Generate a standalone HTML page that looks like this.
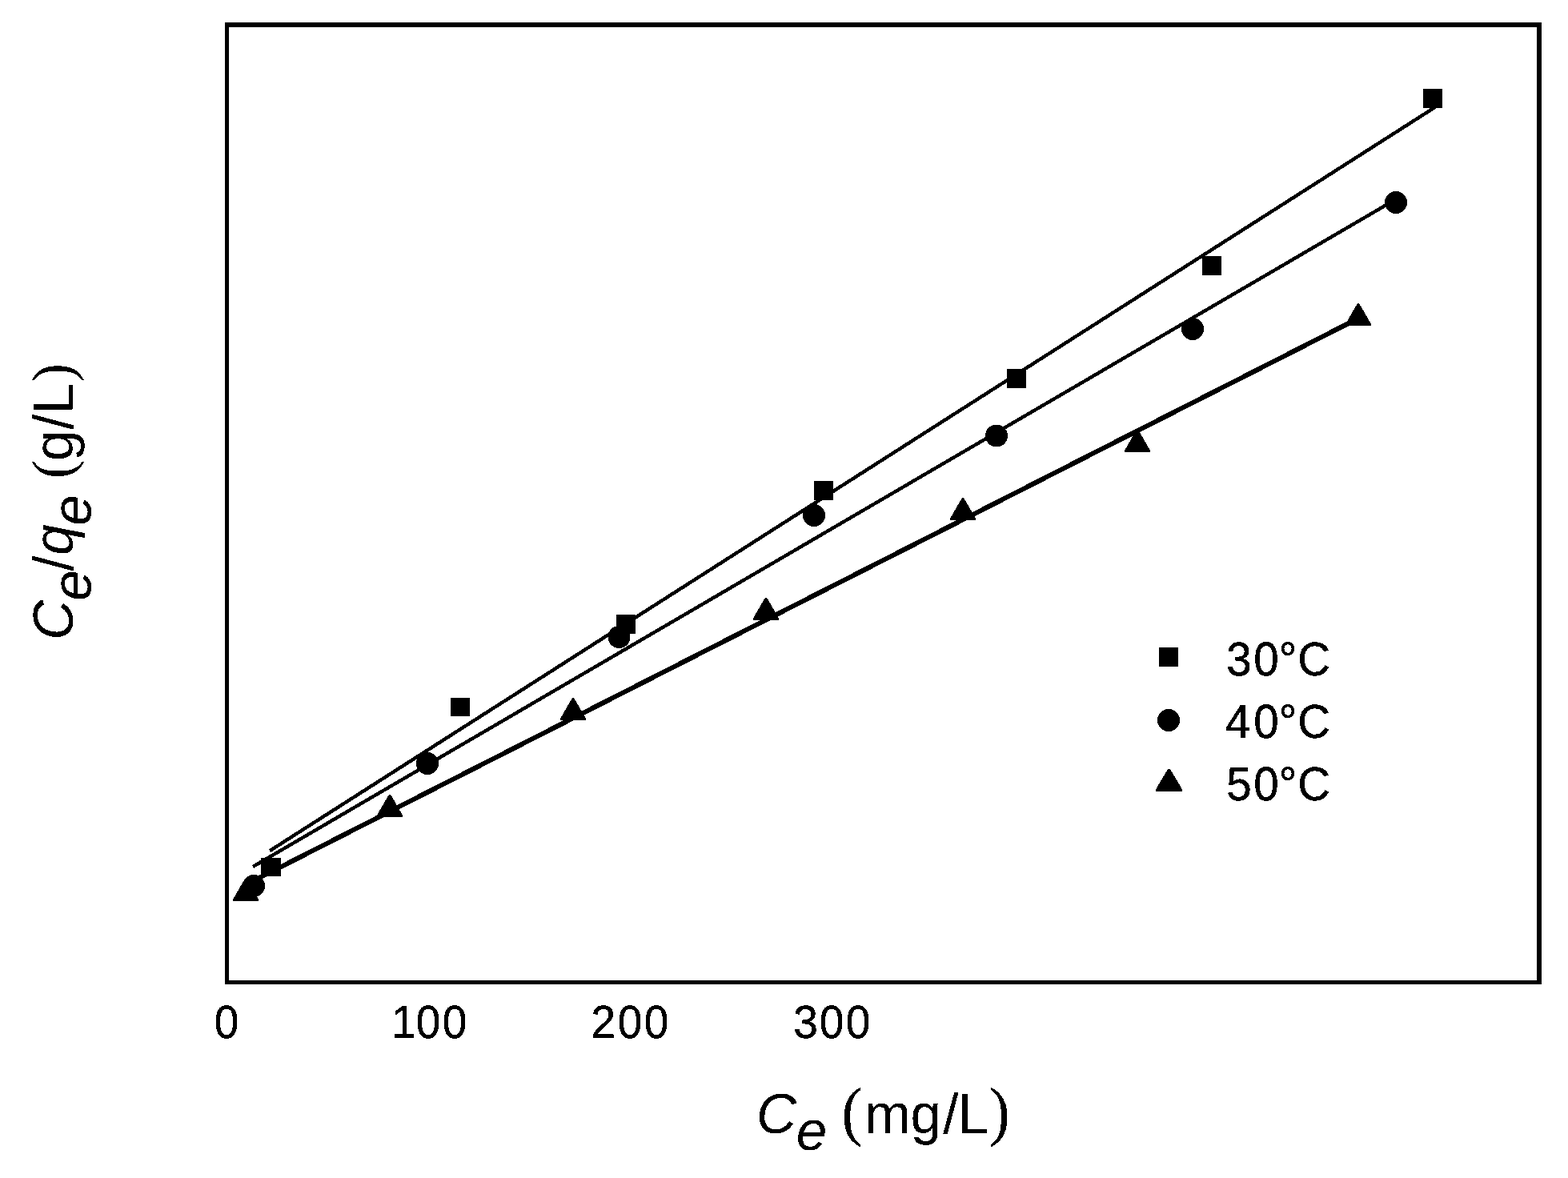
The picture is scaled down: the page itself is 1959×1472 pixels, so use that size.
<!DOCTYPE html>
<html lang="en"><head><meta charset="utf-8">
<style>
html,body{margin:0;padding:0;background:#fff;}
body{width:1959px;height:1472px;overflow:hidden;}
svg{display:block;}
text{font-family:"Liberation Sans",sans-serif;fill:#000;white-space:pre;}
.it{font-style:italic;}
.sym{font-family:"Liberation Serif",serif;font-style:normal;}
</style></head><body>
<svg width="1959" height="1472" viewBox="0 0 1959 1472">
<rect x="0" y="0" width="1959" height="1472" fill="#fff"/>
<path shape-rendering="crispEdges" fill="#000" fill-rule="evenodd" d="M281 28H1926V1230H281Z M286 34H1920V1225H286Z"/>
<g stroke="#000" fill="none" stroke-linecap="butt" shape-rendering="crispEdges">
<line x1="337" y1="1063.2" x2="1793" y2="133.9" stroke-width="4.4"/>
<line x1="316" y1="1083" x2="1744" y2="249" stroke-width="4.4"/>
<line x1="307" y1="1105.6" x2="1697" y2="397.8" stroke-width="6"/>
</g>
<g fill="#000" shape-rendering="crispEdges">
<rect x="1778" y="111" width="24" height="24"/>
<rect x="1502" y="320" width="24" height="24"/>
<rect x="1258" y="461" width="24" height="24"/>
<rect x="1017" y="601" width="24" height="24"/>
<rect x="770" y="768" width="24" height="24"/>
<rect x="563" y="872" width="24" height="23"/>
<rect x="326" y="1072" width="25" height="23"/>
<rect x="1448" y="809" width="24" height="24"/>
<circle cx="1744" cy="253" r="14"/>
<circle cx="1490" cy="411" r="14"/>
<circle cx="1245" cy="544.5" r="14"/>
<circle cx="1017" cy="644" r="14"/>
<circle cx="773.5" cy="796" r="14"/>
<circle cx="534" cy="954" r="14"/>
<circle cx="317" cy="1107" r="14"/>
<circle cx="1460" cy="900" r="14"/>
<path d="M1696 379h2L1713.2 405.2v1.8H1680.8v-1.8Z"/>
<path d="M1420 537h2L1437.2 563.2v1.8H1404.8v-1.8Z"/>
<path d="M1202 622h2L1219.2 648.2v1.8H1186.8v-1.8Z"/>
<path d="M956 746.7h2L973.2 772.9v1.8H940.8v-1.8Z"/>
<path d="M715 872h2L732.2 898.2v1.8H699.8v-1.8Z"/>
<path d="M486 992.7h2L503.2 1018.9v1.8H470.8v-1.8Z"/>
<path d="M306 1098h2L323.2 1124.2v1.8H290.8v-1.8Z"/>
<path d="M1459 961h3L1477 986.4v2.6H1444v-2.6Z"/>
</g>
<defs><filter id="bw" filterUnits="userSpaceOnUse" x="0" y="0" width="1959" height="1472" color-interpolation-filters="sRGB"><feComponentTransfer><feFuncA type="discrete" tableValues="0 1"/></feComponentTransfer></filter></defs>
<g filter="url(#bw)">
<g transform="translate(0 1297) scale(1 1.055)" font-size="55" stroke="#000" stroke-width="0.4">
<text x="267.65" y="0">0</text>
<text x="488.91 519.85 552.75" y="0">100</text>
<text x="738.53 771.65 804.75" y="0">200</text>
<text x="991.31 1023.75 1056.65" y="0">300</text>
</g>
<text transform="translate(0 843.6) scale(1 1.045)" font-size="56.5" stroke="#000" stroke-width="0.4" x="1532.35 1566.19 1597.73 1621.33" y="0">30°C</text>
<text transform="translate(0 921.9) scale(1 1.045)" font-size="56.5" stroke="#000" stroke-width="0.4" x="1531.1 1566.19 1597.73 1621.33" y="0">40°C</text>
<text transform="translate(0 1000.3) scale(1 1.045)" font-size="56.5" stroke="#000" stroke-width="0.4" x="1532.14 1566.19 1597.73 1621.33" y="0">50°C</text>
<text transform="translate(0 1415.8) scale(1 1.02)" font-size="69.3"><tspan x="944.98 994.77" y="0 20.98" class="it">Ce</tspan> <tspan x="1051.18" y="0" class="sym" font-size="80">(</tspan><tspan x="1080.1 1137.39 1178.2 1196.52" y="0">mg/L</tspan><tspan x="1235.22" y="0" class="sym" font-size="80">)</tspan></text>
<text transform="translate(91 796.1) rotate(-90) scale(1 1.02)" font-size="69.3"><tspan x="-3.82 45.17" y="0 21.86" class="it">Ce</tspan><tspan x="82.6" y="0">/</tspan><tspan x="102.27 139.37" y="0 21.86" class="it">qe</tspan> <tspan x="198.05" y="-1" class="sym" font-size="69.5">(</tspan><tspan x="219.99 259.3 278.82" y="0">g/L</tspan><tspan x="318.76" y="-1" class="sym" font-size="69.5">)</tspan></text>
</g>
</svg></body></html>
